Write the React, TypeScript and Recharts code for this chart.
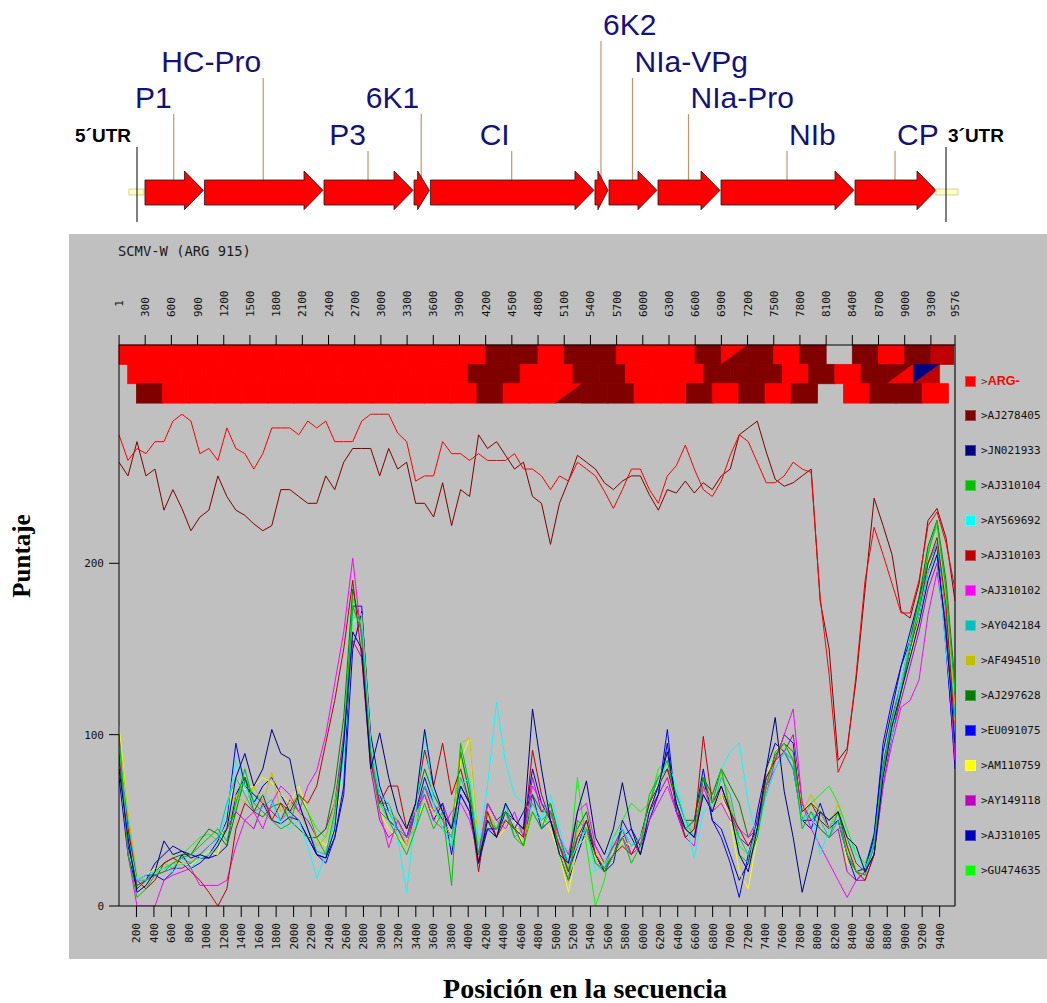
import React from 'react';
import { BarChart, Bar, XAxis, YAxis, LineChart, Line, ReferenceArea, ReferenceLine } from 'recharts';

// ---------------- genome map data ----------------
const GENOME_LENGTH = 9576;
const GENE_NAMES = ['P1', 'HC-Pro', 'P3', '6K1', 'CI', '6K2', 'NIa-VPg', 'NIa-Pro', 'NIb', 'CP'];
const GENE_BOUNDS = [173, 860, 2241, 3281, 3470, 5371, 5533, 6099, 6827, 8375, 9322];

// ---------------- scan chart data ----------------
const TOP_TICKS = [1, 300, 600, 900, 1200, 1500, 1800, 2100, 2400, 2700, 3000, 3300, 3600, 3900, 4200, 4500, 4800, 5100, 5400, 5700, 6000, 6300, 6600, 6900, 7200, 7500, 7800, 8100, 8400, 8700, 9000, 9300, 9576];
const BOTTOM_TICKS = [200, 400, 600, 800, 1000, 1200, 1400, 1600, 1800, 2000, 2200, 2400, 2600, 2800, 3000, 3200, 3400, 3600, 3800, 4000, 4200, 4400, 4600, 4800, 5000, 5200, 5400, 5600, 5800, 6000, 6200, 6400, 6600, 6800, 7000, 7200, 7400, 7600, 7800, 8000, 8200, 8400, 8600, 8800, 9000, 9200, 9400];
const Y_TICKS = [0, 100, 200];

const SERIES_NAMES = ['>ARG-', '>AJ278405', '>JN021933', '>AJ310104', '>AY569692', '>AJ310103', '>AJ310102', '>AY042184', '>AF494510', '>AJ297628', '>EU091075', '>AM110759', '>AY149118', '>AJ310105', '>GU474635'];

const ARG = [
  275, 260, 267, 264, 271, 271, 283, 287, 283, 264,
  267, 260, 279, 267, 264, 255, 264, 279, 279, 279,
  275, 283, 279, 283, 271, 271, 271, 283, 287, 287,
  287, 276, 271, 248, 251, 251, 271, 264, 264, 260,
  264, 260, 260, 260, 264, 255, 255, 251, 243, 251,
  248, 259, 255, 251, 242, 232, 243, 255, 255, 243,
  235, 251, 257, 269, 255, 243, 239, 248, 263, 275,
  271, 259, 247, 247, 251, 259, 255, 253, 180, 135,
  78, 90, 135, 190, 221, 205, 188, 171, 171, 190,
  222, 230, 212, 185];
const AJ278405 = [
  259, 251, 271, 251, 255, 231, 243, 232, 219, 227,
  231, 251, 239, 231, 228, 223, 219, 222, 243, 243,
  239, 235, 235, 251, 243, 259, 267, 267, 267, 251,
  267, 255, 259, 235, 235, 227, 247, 222, 243, 239,
  275, 267, 271, 263, 255, 259, 239, 235, 211, 235,
  248, 263, 259, 255, 247, 243, 248, 251, 251, 240,
  231, 243, 241, 248, 241, 247, 243, 251, 255, 275,
  279, 283, 265, 249, 245, 247, 251, 255, 178, 150,
  85, 92, 132, 185, 238, 222, 205, 172, 168, 188,
  225, 232, 215, 178];
const JN021933 = [
  80, 40, 8, 12, 20, 38, 30, 32, 28, 30,
  28, 35, 45, 75, 89, 70, 80, 103, 89, 86,
  60, 45, 30, 28, 45, 95, 160, 150, 80, 101,
  75, 55, 45, 60, 103, 70, 55, 45, 70, 60,
  25, 50, 40, 60, 50, 45, 115, 80, 50, 30,
  25, 55, 73, 40, 30, 45, 72, 45, 30, 55,
  70, 90, 60, 45, 40, 65, 55, 70, 55, 30,
  20, 45, 80, 110, 67, 40, 8, 30, 55, 50,
  55, 40, 35, 20, 30, 75, 105, 125, 145, 165,
  190, 205, 160, 95];
const AJ310104 = [
  100, 30, 5, 10, 18, 20, 25, 28, 30, 35,
  40, 45, 38, 60, 80, 60, 55, 50, 45, 48,
  65, 55, 40, 30, 55, 95, 175, 160, 90, 55,
  50, 40, 30, 45, 60, 45, 55, 12, 95, 70,
  30, 50, 45, 55, 40, 35, 55, 45, 60, 30,
  15, 50, 45, 25, 20, 30, 40, 25, 35, 65,
  75, 85, 60, 45, 40, 75, 60, 80, 55, 30,
  25, 40, 70, 90, 95, 85, 45, 55, 45, 40,
  55, 30, 20, 18, 35, 80, 105, 125, 150, 175,
  205, 225, 185, 125];
const AY569692 = [
  95, 40, 15, 18, 20, 22, 20, 25, 22, 28,
  30, 35, 55, 85, 70, 60, 65, 60, 48, 45,
  50, 35, 16, 30, 50, 85, 170, 165, 95, 65,
  60, 40, 8, 55, 101, 60, 45, 35, 70, 75,
  35, 70, 119, 84, 65, 60, 55, 50, 65, 45,
  25, 35, 45, 20, 25, 40, 45, 35, 40, 55,
  70, 85, 70, 50, 28, 55, 60, 80, 90, 95,
  60, 40, 65, 80, 90, 85, 50, 55, 30, 45,
  55, 40, 30, 22, 35, 78, 100, 130, 155, 170,
  195, 205, 150, 100];
const AJ310103 = [
  90, 45, 15, 10, 15, 25, 28, 25, 20, 15,
  8, 0, 10, 45, 60, 55, 65, 50, 60, 55,
  65, 60, 70, 95, 120, 150, 190, 145, 85, 60,
  70, 70, 45, 60, 91, 70, 95, 65, 80, 60,
  20, 55, 40, 50, 45, 40, 91, 65, 50, 35,
  20, 40, 50, 30, 20, 30, 35, 30, 40, 60,
  70, 80, 60, 40, 45, 99, 60, 70, 55, 45,
  35, 45, 75, 85, 90, 85, 55, 60, 50, 45,
  55, 35, 20, 15, 30, 78, 100, 125, 150, 170,
  200, 215, 175, 100];
const AJ310102 = [
  100, 30, 0, 0, 0, 15, 18, 20, 22, 12,
  12, 12, 15, 35, 50, 55, 45, 60, 70, 65,
  55, 70, 79, 100, 130, 160, 203, 155, 85, 55,
  34, 50, 40, 55, 65, 50, 45, 55, 60, 50,
  30, 60, 50, 45, 55, 40, 70, 60, 55, 40,
  30, 55, 60, 35, 25, 35, 40, 30, 35, 50,
  60, 70, 55, 40, 35, 70, 55, 60, 50, 45,
  40, 50, 65, 85, 100, 115, 60, 45, 35, 25,
  15, 5, 15, 20, 30, 70, 95, 116, 120, 132,
  170, 195, 160, 85];
const AY042184 = [
  90, 50, 15, 15, 20, 22, 25, 28, 25, 30,
  35, 40, 60, 75, 65, 55, 58, 62, 50, 55,
  60, 45, 32, 30, 50, 88, 175, 160, 90, 60,
  55, 45, 40, 45, 70, 60, 45, 40, 75, 60,
  35, 50, 45, 60, 40, 45, 60, 50, 55, 40,
  20, 40, 45, 25, 22, 35, 40, 30, 40, 60,
  75, 80, 65, 50, 40, 65, 55, 75, 65, 40,
  30, 45, 65, 80, 90, 80, 50, 55, 50, 40,
  50, 30, 20, 18, 38, 80, 108, 130, 150, 172,
  200, 212, 170, 110];
const AF494510 = [
  100, 55, 18, 15, 20, 22, 25, 24, 26, 28,
  30, 35, 45, 65, 60, 70, 60, 78, 55, 60,
  55, 45, 35, 40, 60, 90, 168, 170, 95, 60,
  55, 50, 35, 50, 65, 55, 50, 40, 95, 98,
  35, 55, 45, 50, 45, 40, 55, 50, 55, 35,
  18, 45, 40, 30, 25, 30, 35, 30, 35, 55,
  70, 85, 60, 45, 45, 70, 60, 78, 60, 40,
  30, 45, 70, 85, 95, 85, 55, 65, 55, 45,
  60, 35, 20, 18, 35, 78, 105, 125, 150, 172,
  200, 212, 180, 115];
const AJ297628 = [
  85, 40, 10, 15, 20, 25, 28, 30, 30, 38,
  45, 42, 35, 55, 75, 55, 52, 58, 60, 50,
  45, 40, 40, 45, 70, 110, 185, 160, 85, 60,
  60, 45, 40, 60, 80, 65, 55, 45, 90, 65,
  30, 60, 50, 55, 45, 35, 65, 55, 60, 40,
  25, 45, 55, 30, 22, 30, 45, 35, 40, 60,
  75, 80, 65, 50, 50, 75, 65, 80, 70, 60,
  40, 45, 70, 88, 95, 90, 55, 60, 55, 50,
  55, 40, 25, 20, 35, 82, 110, 130, 155, 180,
  210, 225, 190, 130];
const EU091075 = [
  90, 35, 15, 18, 18, 15, 20, 30, 22, 25,
  30, 38, 50, 95, 70, 65, 60, 50, 48, 52,
  50, 40, 30, 25, 40, 70, 175, 175, 90, 65,
  50, 45, 40, 55, 65, 50, 60, 30, 65, 55,
  30, 45, 45, 50, 45, 55, 65, 45, 50, 35,
  20, 35, 50, 30, 20, 25, 50, 40, 30, 50,
  65, 103, 55, 45, 50, 80, 50, 40, 25, 5,
  30, 50, 75, 85, 100, 95, 50, 45, 60, 45,
  50, 30, 15, 20, 40, 95, 120, 140, 155, 170,
  195, 210, 150, 85];
const AM110759 = [
  105, 55, 15, 18, 22, 22, 25, 25, 24, 28,
  32, 30, 55, 75, 68, 70, 75, 72, 65, 60,
  70, 55, 40, 35, 45, 85, 165, 171, 92, 55,
  45, 40, 35, 50, 60, 55, 45, 40, 85, 98,
  30, 50, 40, 45, 50, 35, 55, 50, 45, 30,
  8, 35, 40, 28, 25, 32, 38, 35, 30, 55,
  75, 85, 60, 45, 50, 70, 55, 65, 50, 20,
  10, 40, 75, 90, 100, 95, 55, 60, 50, 45,
  55, 25, 20, 18, 35, 75, 105, 125, 148, 170,
  198, 210, 175, 105];
const AY149118 = [
  90, 45, 12, 15, 18, 20, 22, 22, 25, 30,
  35, 40, 45, 55, 50, 45, 60, 55, 50, 62,
  55, 50, 40, 45, 60, 100, 155, 145, 80, 50,
  40, 45, 35, 55, 70, 55, 60, 45, 65, 55,
  25, 60, 50, 55, 45, 40, 75, 55, 55, 35,
  25, 40, 45, 35, 25, 35, 45, 30, 35, 55,
  65, 75, 55, 45, 40, 70, 55, 65, 55, 40,
  35, 45, 70, 80, 90, 100, 60, 50, 45, 40,
  45, 20, 15, 15, 30, 70, 100, 120, 140, 160,
  185, 200, 165, 95];
const AJ310105 = [
  75, 30, 10, 15, 25, 30, 35, 32, 30, 28,
  28, 30, 35, 65, 75, 60, 70, 75, 65, 55,
  50, 40, 30, 28, 40, 65, 150, 172, 100, 70,
  55, 50, 40, 55, 75, 60, 50, 40, 70, 60,
  25, 45, 40, 55, 50, 45, 80, 60, 50, 30,
  15, 30, 45, 30, 20, 30, 40, 45, 35, 55,
  65, 95, 55, 40, 45, 75, 50, 45, 30, 15,
  25, 55, 80, 95, 90, 80, 50, 50, 55, 45,
  50, 30, 20, 22, 42, 90, 115, 140, 160, 180,
  200, 210, 155, 80];
const GU474635 = [
  95, 35, 12, 15, 18, 25, 22, 30, 35, 40,
  42, 38, 45, 60, 75, 65, 62, 55, 50, 58,
  65, 55, 45, 40, 60, 95, 180, 165, 85, 60,
  50, 45, 35, 50, 70, 55, 45, 35, 90, 65,
  30, 55, 45, 50, 45, 45, 55, 45, 55, 35,
  20, 75, 35, 0, 15, 40, 50, 60, 55, 60,
  80, 85, 65, 50, 45, 75, 55, 65, 60, 35,
  30, 40, 70, 90, 95, 85, 50, 60, 65, 70,
  60, 45, 30, 25, 38, 82, 110, 128, 155, 178,
  208, 222, 185, 125];

const SERIES_VALUES = [ARG, AJ278405, JN021933, AJ310104, AY569692, AJ310103, AJ310102, AY042184, AF494510, AJ297628, EU091075, AM110759, AY149118, AJ310105, GU474635];

// Best-match bands: windows of 300 nt, step 100, staggered in three rows.
// Codes: A = ARG-, B = AJ278405, C = AJ310103, N = JN021933, '' = none, 'X|Y' = tie
const BAND_ROW_1 = ['A', 'A', 'A', 'A', 'A', 'A', 'A', 'A', 'A', 'A', 'A', 'A', 'A', 'A', 'B', 'B', 'A', 'B', 'B', 'A', 'A', 'A', 'B', 'A|B', 'B', 'A', 'B', '', 'B', 'A', 'B', 'C'];
const BAND_ROW_2 = ['A', 'A', 'A', 'A', 'A', 'A', 'A', 'A', 'A', 'A', 'A', 'A', 'A', 'B', 'B', 'A', 'A', 'B', 'B', 'A', 'A', 'A', 'B', 'B', 'B', 'A', 'B', 'A', 'B', 'B|A', 'N|C', ''];
const BAND_ROW_3 = ['B', 'A', 'A', 'A', 'A', 'A', 'A', 'A', 'A', 'A', 'A', 'A', 'A', 'B', 'A', 'A', 'A|B', 'B', 'B', 'A', 'A', 'B', 'A', 'B', 'A', 'B', '', 'A', 'B', 'B', 'A'];
const BAND_ROW_STARTS = [0, 100, 200];
const BAND_WINDOW = 300;

// ---------------- styles ----------------
const SERIES_COLORS = ['#ff0000', '#800000', '#000080', '#00c000', '#00ffff', '#c00000', '#ff00ff', '#00c0c0', '#c0c000', '#008000', '#0000ff', '#ffff00', '#c000c0', '#0000c0', '#00ff00'];
const BAND_COLORS: Record<string, string> = { A: '#ff0000', B: '#800000', C: '#c00000', N: '#000080' };
const LABEL_ROW_BASELINE = [0, 35, 72, 108, 145];
const GENE_LABEL_ROW = [3, 2, 4, 3, 4, 1, 2, 3, 4, 4];
const GENE_LABEL_SIDE = ['end', 'end', 'end', 'end', 'end', 'start', 'start', 'start', 'start', 'start'];
const MONO = '"DejaVu Sans Mono", monospace';
const Y_MAX = 327.4;
const ROW_H = 11.3;

// ---------------- derived tables ----------------
const genomeRow: any = { name: 'genome', utr5: GENE_BOUNDS[0], utr3: GENOME_LENGTH - GENE_BOUNDS[GENE_BOUNDS.length - 1] };
GENE_NAMES.forEach((g, i) => { genomeRow[g] = GENE_BOUNDS[i + 1] - GENE_BOUNDS[i]; });
const genomeData = [genomeRow];

const POINT_STEP = GENOME_LENGTH / (ARG.length - 1);
const scanData = ARG.map((_, i) => {
  const r: any = { pos: i * POINT_STEP };
  SERIES_NAMES.forEach((n, s) => { r[n] = SERIES_VALUES[s][i]; });
  return r;
});

const bandCells: { x1: number; x2: number; y1: number; y2: number; code: string }[] = [];
[BAND_ROW_1, BAND_ROW_2, BAND_ROW_3].forEach((row, r) => {
  row.forEach((code, k) => {
    if (!code) return;
    const start = BAND_ROW_STARTS[r] + k * BAND_WINDOW;
    bandCells.push({
      x1: start,
      x2: Math.min(start + BAND_WINDOW, GENOME_LENGTH),
      y1: Y_MAX - (r + 1) * ROW_H,
      y2: Y_MAX - r * ROW_H,
      code,
    });
  });
});

// ---------------- shapes ----------------
function GeneArrow(props: any) {
  const { x, y, width, height, label, row, side } = props;
  const bodyTop = y + 9;
  const bodyBot = y + 34;
  const x0 = x + 1;
  const x1 = x + width;
  const head = Math.min(19, width * 0.72);
  const hx = x1 - head;
  const mid = y + height / 2;
  const pts = `${x0},${bodyTop} ${hx},${bodyTop} ${hx},${y} ${x1},${mid} ${hx},${y + height} ${hx},${bodyBot} ${x0},${bodyBot}`;
  const cx = x + width / 2;
  const base = LABEL_ROW_BASELINE[row];
  return (
    <g>
      <line x1={cx} x2={cx} y1={base + 6} y2={bodyTop} stroke="#c8956a" strokeWidth={1.2} />
      <polygon points={pts} fill="#ff0000" stroke="#1a1a1a" strokeWidth={0.8} />
      <text x={side === 'end' ? cx - 2 : cx + 2} y={base} textAnchor={side} fontFamily='"Liberation Sans", Arial, sans-serif' fontSize={30} fill="#12127a">{label}</text>
    </g>
  );
}

function UtrShape(props: any) {
  const { x, y, width, label, side } = props;
  const lineX = side === 'end' ? x + 8 : x + 10;
  return (
    <g>
      <rect x={x} y={y + 18} width={width} height={6} fill="#ffffc4" stroke="#d4d49a" strokeWidth={1} />
      <line x1={lineX} x2={lineX} y1={y - 24} y2={y + 51} stroke="#000" strokeWidth={1} />
      <text x={side === 'end' ? x + 2 : x + 12} y={142} textAnchor={side} fontFamily='"Liberation Sans", Arial, sans-serif' fontWeight="bold" fontSize={19} fill="#000">{label}</text>
    </g>
  );
}

function PlainCell(color: string) {
  return (p: any) => {
    const { x, y, width, height } = p;
    return <rect x={x} y={y} width={width} height={height} fill={color} stroke={color} strokeWidth={0.8} />;
  };
}

function SplitCell(codes: string[]) {
  return (p: any) => {
    const { x, y, width, height } = p;
    const [a, b] = codes;
    const ca = BAND_COLORS[a];
    const cb = BAND_COLORS[b];
    return (
      <g>
        <polygon points={`${x},${y} ${x + width},${y} ${x},${y + height}`} fill={ca} stroke={ca} strokeWidth={0.6} />
        <polygon points={`${x + width},${y} ${x + width},${y + height} ${x},${y + height}`} fill={cb} stroke={cb} strokeWidth={0.6} />
      </g>
    );
  };
}

function TopTick(props: any) {
  const { x, y, payload } = props;
  const first = payload.value === 1;
  const ty = first ? y - 17 : y;
  return (
    <text x={x} y={ty} transform={`rotate(-90 ${x} ${ty})`} dy={4} textAnchor={first ? 'end' : 'start'} fontFamily={MONO} fontSize={11} fill="#111">{payload.value}</text>
  );
}

function BottomTick(props: any) {
  const { x, y, payload } = props;
  return (
    <text x={x} y={y} transform={`rotate(-90 ${x} ${y})`} dy={4} textAnchor="end" fontFamily={MONO} fontSize={11} fill="#111">{payload.value}</text>
  );
}

export default function App() {
  return (
    <div style={{ position: 'absolute', left: 0, top: 0, width: 1047, height: 1003, background: '#fff', overflow: 'hidden' }}>
      {/* genome map */}
      <div style={{ position: 'absolute', left: 0, top: 0 }}>
        <BarChart width={1047} height={230} data={genomeData} layout="vertical" margin={{ top: 169, right: 89, bottom: 18, left: 129 }} barCategoryGap={0}>
          <XAxis type="number" domain={[0, GENOME_LENGTH]} hide />
          <YAxis type="category" dataKey="name" hide />
          <Bar dataKey="utr5" stackId="g" barSize={43} isAnimationActive={false} shape={(p: any) => <UtrShape {...p} label="5´UTR" side="end" />} />
          {GENE_NAMES.map((g, i) => (
            <Bar key={g} dataKey={g} stackId="g" barSize={43} isAnimationActive={false}
              shape={(p: any) => <GeneArrow {...p} label={g} row={GENE_LABEL_ROW[i]} side={GENE_LABEL_SIDE[i]} />} />
          ))}
          <Bar dataKey="utr3" stackId="g" barSize={43} isAnimationActive={false} shape={(p: any) => <UtrShape {...p} label="3´UTR" side="start" />} />
        </BarChart>
      </div>

      {/* grey panel */}
      <div style={{ position: 'absolute', left: 69, top: 234, width: 978, height: 725, background: '#c0c0c0' }} />
      <div style={{ position: 'absolute', left: 118, top: 243, fontFamily: MONO, fontSize: 13.8, color: '#1a1a1a', whiteSpace: 'pre' }}>SCMV-W (ARG 915)</div>

      <div style={{ position: 'absolute', left: 0, top: 0 }}>
        <LineChart width={1047} height={1003} data={scanData} margin={{ top: 285, right: 92, bottom: 47, left: 69 }}>
          <XAxis xAxisId="top" orientation="top" type="number" dataKey="pos" domain={[0, GENOME_LENGTH]} ticks={TOP_TICKS} interval={0}
            height={60} tickSize={10} tickMargin={18} tick={<TopTick />} stroke="#000" allowDataOverflow />
          <XAxis xAxisId="bottom" orientation="bottom" type="number" dataKey="pos" domain={[0, GENOME_LENGTH]} ticks={BOTTOM_TICKS} interval={0}
            height={50} tickSize={11} tickMargin={6} tick={<BottomTick />} stroke="#000" allowDataOverflow />
          <YAxis type="number" domain={[0, Y_MAX]} ticks={Y_TICKS} interval={0} width={50} tickSize={10} tickMargin={5}
            tick={{ fontFamily: MONO, fontSize: 11, fill: '#111' }} stroke="#000" allowDataOverflow />
          {bandCells.map((c, i) => (
            <ReferenceArea key={'b' + i} xAxisId="bottom" x1={c.x1} x2={c.x2} y1={c.y1} y2={c.y2} fillOpacity={1} stroke="none"
              shape={c.code.includes('|') ? SplitCell(c.code.split('|')) : PlainCell(BAND_COLORS[c.code])} />
          ))}
          <ReferenceLine xAxisId="bottom" x={GENOME_LENGTH} stroke="#555" strokeWidth={2} />
          {SERIES_NAMES.slice().reverse().map((n) => {
            const idx = SERIES_NAMES.indexOf(n);
            return (
              <Line key={n} xAxisId="bottom" type="linear" dataKey={n} stroke={SERIES_COLORS[idx]} strokeWidth={1} dot={false} isAnimationActive={false} />
            );
          })}
        </LineChart>
      </div>

      {/* legend */}
      <div style={{ position: 'absolute', left: 965, top: 0 }}>
        {SERIES_NAMES.map((n, i) => (
          <div key={n} style={{ position: 'absolute', top: 381 + i * 34.93 - 6, left: 0, display: 'flex', alignItems: 'center', height: 12, whiteSpace: 'nowrap' }}>
            <div style={{ width: 11, height: 11, background: SERIES_COLORS[i], boxShadow: 'inset 0 0 0 1px rgba(255,255,255,0.25)' }} />
            {i === 0 ? (
              <span style={{ marginLeft: 5, display: 'flex', alignItems: 'baseline' }}>
                <span style={{ fontFamily: MONO, fontSize: 11, color: '#603030' }}>&gt;</span>
                <span style={{ fontFamily: '"Liberation Sans", Arial, sans-serif', fontWeight: 'bold', fontSize: 12.5, color: '#ff0000' }}>ARG-</span>
              </span>
            ) : (
              <span style={{ marginLeft: 5, fontFamily: MONO, fontSize: 11, color: '#111' }}>{n}</span>
            )}
          </div>
        ))}
      </div>

      {/* axis titles */}
      <svg width={1047} height={1003} style={{ position: 'absolute', left: 0, top: 0, pointerEvents: 'none' }}>
        <text x={30} y={556} transform="rotate(-90 30 556)" textAnchor="middle" fontFamily='"Liberation Serif", "Times New Roman", serif' fontWeight="bold" fontSize={25} fill="#000">Puntaje</text>
        <text x={585} y={998} textAnchor="middle" fontFamily='"Liberation Serif", "Times New Roman", serif' fontWeight="bold" fontSize={28} fill="#000">Posición en la secuencia</text>
      </svg>
    </div>
  );
}
